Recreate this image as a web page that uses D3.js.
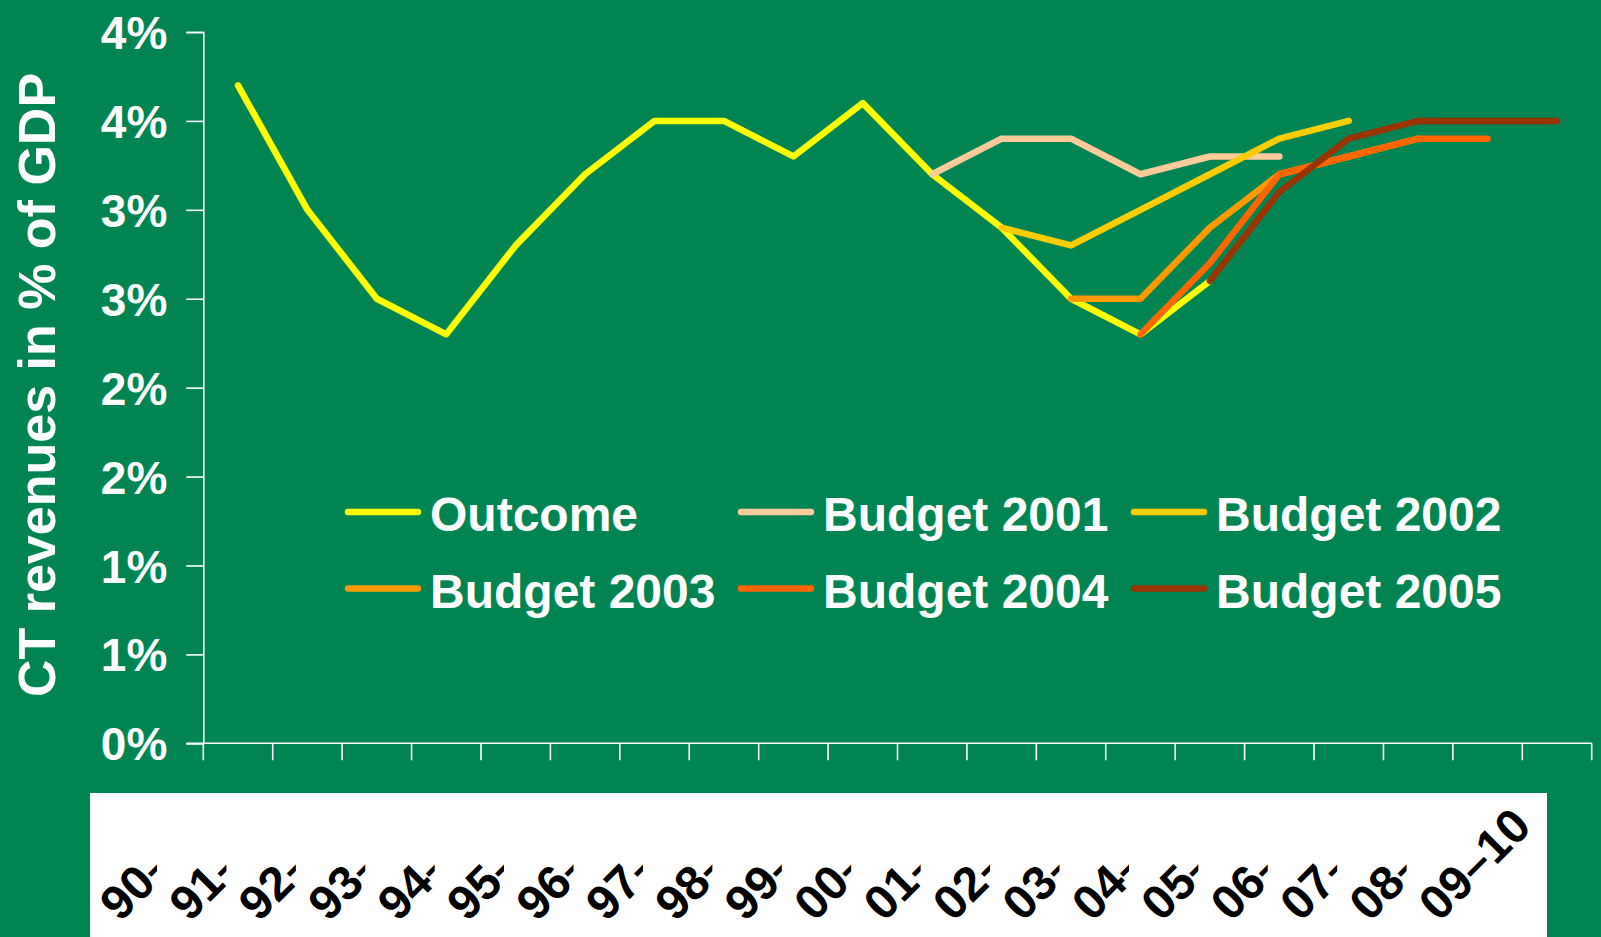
<!DOCTYPE html>
<html>
<head>
<meta charset="UTF-8">
<title>CT revenues</title>
<script src="https://cdn.jsdelivr.net/npm/d3@7"></script>
<style>
  html, body { margin: 0; padding: 0; background: #008552; overflow: hidden; }
  svg { display: block; font-family: "Liberation Sans", Arial, sans-serif; font-weight: bold; }
</style>
</head>
<body>
<div id="chart"></div>
<script>
// categories (fiscal years)
const categories = ["90–91", "91–92", "92–93", "93–94", "94–95", "95–96", "96–97", "97–98", "98–99", "99–00",
                    "00–01", "01–02", "02–03", "03–04", "04–05", "05–06", "06–07", "07–08", "08–09", "09–10"];

// CT receipts in % of GDP
const outcome    = [3.7, 3.0, 2.5, 2.3, 2.8, 3.2, 3.5, 3.5, 3.3, 3.6, 3.2, 2.9, 2.5, 2.3, 2.6, null, null, null, null, null];
const budget2001 = [null, null, null, null, null, null, null, null, null, null, 3.2, 3.4, 3.4, 3.2, 3.3, 3.3, null, null, null, null];
const budget2002 = [null, null, null, null, null, null, null, null, null, null, null, 2.9, 2.8, 3.0, 3.2, 3.4, 3.5, null, null, null];
const budget2003 = [null, null, null, null, null, null, null, null, null, null, null, null, 2.5, 2.5, 2.9, 3.2, 3.3, 3.4, null, null];
const budget2004 = [null, null, null, null, null, null, null, null, null, null, null, null, null, 2.3, 2.7, 3.2, 3.3, 3.4, 3.4, null];
const budget2005 = [null, null, null, null, null, null, null, null, null, null, null, null, null, null, 2.6, 3.1, 3.4, 3.5, 3.5, 3.5];

const seriesNames = ["Outcome", "Budget 2001", "Budget 2002", "Budget 2003", "Budget 2004", "Budget 2005"];
const seriesColors = ["#ffff00", "#ffcc99", "#ffcc00", "#ff9900", "#ff6600", "#993300"];
const seriesValues = [outcome, budget2001, budget2002, budget2003, budget2004, budget2005];

const yTickValues = [0, 0.5, 1, 1.5, 2, 2.5, 3, 3.5, 4];
const yTickLabels = ["0%", "1%", "1%", "2%", "2%", "3%", "3%", "4%", "4%"];

const W = 1601, H = 937;
const plot = {left: 203.3, right: 1591.7, top: 32, bottom: 743.3};

const svg = d3.select("#chart").append("svg")
    .attr("width", W)
    .attr("height", H);

svg.append("rect").attr("width", W).attr("height", H).attr("fill", "#008552");

const x = d3.scaleBand().domain(categories).range([plot.left, plot.right]).padding(0);
const y = d3.scaleLinear().domain([0, 4]).range([plot.bottom, plot.top]);
const cx = c => x(c) + x.bandwidth() / 2;

// y axis
const yAxis = d3.axisLeft(y)
    .tickValues(yTickValues)
    .tickFormat((d, i) => yTickLabels[i])
    .tickSize(17)
    .tickPadding(19);
const gy = svg.append("g").attr("transform", `translate(${plot.left},0)`).call(yAxis);
gy.select(".domain").attr("stroke", "#fff").attr("stroke-width", 1.6);
gy.selectAll(".tick line").attr("stroke", "#fff").attr("stroke-width", 1.6);
gy.selectAll(".tick text")
    .attr("fill", "#fff")
    .attr("font-size", 46)
    .attr("font-family", "Liberation Sans, Arial, sans-serif")
    .attr("font-weight", "bold")
    .attr("dy", "0.36em");

// x axis: baseline + boundary ticks
svg.append("line")
    .attr("x1", plot.left - 17).attr("x2", plot.right)
    .attr("y1", plot.bottom).attr("y2", plot.bottom)
    .attr("stroke", "#fff").attr("stroke-width", 1.6);
const boundaries = categories.map(c => x(c)).concat([plot.right]);
svg.append("g").selectAll("line").data(boundaries).join("line")
    .attr("x1", d => d).attr("x2", d => d)
    .attr("y1", plot.bottom).attr("y2", plot.bottom + 17)
    .attr("stroke", "#fff").attr("stroke-width", 1.6);

// y title
svg.append("text")
    .attr("transform", `translate(55,${(73 + 697) / 2}) rotate(-90)`)
    .attr("text-anchor", "middle")
    .attr("fill", "#fff")
    .attr("font-size", 52)
    .text("CT revenues in % of GDP");

// lines
const line = d3.line()
    .defined(d => d.v != null)
    .x(d => cx(d.c))
    .y(d => y(d.v));

svg.append("g").selectAll("path")
    .data(seriesValues.map((vals, i) => ({name: seriesNames[i], color: seriesColors[i],
        pts: vals.map((v, j) => ({c: categories[j], v: v}))})))
    .join("path")
    .attr("d", d => line(d.pts))
    .attr("fill", "none")
    .attr("stroke", d => d.color)
    .attr("stroke-width", 6.5)
    .attr("stroke-linecap", "round")
    .attr("stroke-linejoin", "round");

// legend: 3 columns, 2 rows
const legend = svg.append("g");
seriesNames.forEach((name, i) => {
    const col = i % 3, row = Math.floor(i / 3);
    const lx = 348 + col * 393, ly = 512 + row * 76.5;
    const g = legend.append("g").attr("transform", `translate(${lx},${ly})`);
    g.append("line")
        .attr("x1", 0).attr("x2", 70)
        .attr("stroke", seriesColors[i])
        .attr("stroke-width", 6.5)
        .attr("stroke-linecap", "round");
    g.append("text")
        .attr("x", 82).attr("y", 19)
        .attr("fill", "#fff")
        .attr("font-size", 48)
        .text(name);
});

// category labels in the white box
const box = {x0: 90, x1: 1547, y0: 793};
svg.append("rect")
    .attr("x", box.x0).attr("y", box.y0)
    .attr("width", box.x1 - box.x0).attr("height", H - box.y0)
    .attr("fill", "#fff");

// each label is cut off at its slot, only the last one shows in full
const defs = svg.append("defs");
categories.forEach((c, i) => {
    const last = i === categories.length - 1;
    defs.append("clipPath").attr("id", "clip" + i)
        .append("rect")
        .attr("x", last ? box.x0 : cx(c) - 150)
        .attr("y", box.y0)
        .attr("width", last ? box.x1 - box.x0 : 69)
        .attr("height", H - box.y0);
});

svg.append("g").selectAll("g").data(categories).join("g")
    .attr("clip-path", (d, i) => `url(#clip${i})`)
    .append("text")
    .attr("transform", d => `translate(${cx(d) - 118},923) rotate(-45)`)
    .attr("fill", "#000")
    .attr("font-size", 48)
    .text(d => d);
</script>
</body>
</html>
